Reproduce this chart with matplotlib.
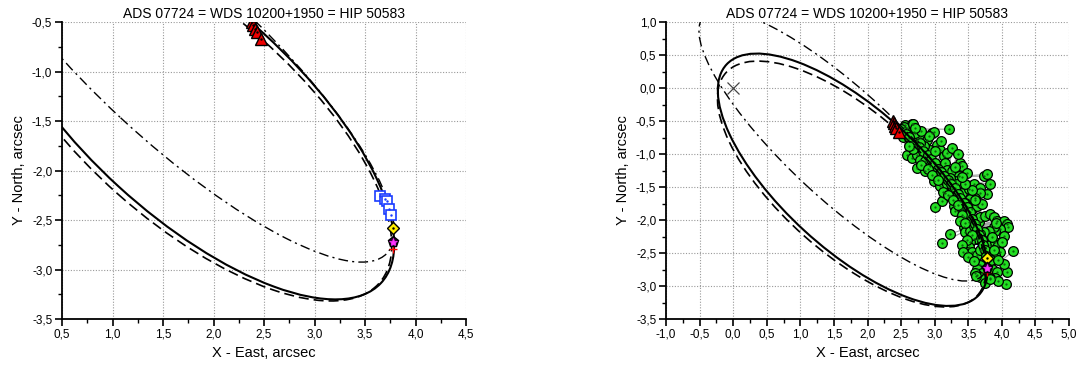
import numpy as np
import matplotlib
matplotlib.use("Agg")
import matplotlib.pyplot as plt
from matplotlib.patches import Ellipse
from matplotlib.ticker import MultipleLocator, FuncFormatter

plt.rcParams['font.family'] = ['Liberation Sans', 'DejaVu Sans']

TITLE = "ADS 07724 = WDS 10200+1950 = HIP 50583"
XLABEL = "X - East, arcsec"
YLABEL = "Y - North, arcsec"

# apparent orbits (solid, dashed, dash-dot): centre, full axes, tilt (deg)
orbit_cx = [1.78, 1.765, 1.64]
orbit_cy = [-1.39, -1.455, -0.875]
orbit_w = [5.13, 5.04, 5.714]
orbit_h = [2.11, 2.116, 1.63]
orbit_ang = [-43.0, -42.1, -43.4]
orbit_ls = ['-', (0, (6, 3)), (0, (7, 3, 1.5, 3))]
orbit_lw = [1.5, 1.2, 1.0]

# red triangles
tri_x = [2.38, 2.39, 2.41, 2.43, 2.47]
tri_y = [-0.50, -0.53, -0.57, -0.60, -0.67]
# blue squares
sq_x = [3.65, 3.70, 3.72, 3.74, 3.76]
sq_y = [-2.26, -2.29, -2.31, -2.39, -2.45]
# yellow diamond
dia_x = [3.78]
dia_y = [-2.58]
# magenta star
star_x = [3.775]
star_y = [-2.72]
# centre cross (primary)
cross_x = [0.0]
cross_y = [0.0]

# green observations (right panel)
gx = [2.564, 2.663, 2.589, 2.688, 2.530, 2.614, 2.663, 2.738, 2.787, 2.886, 2.960, 2.985,
      3.208, 3.035, 3.084, 2.936, 2.837, 2.787, 2.589, 2.663, 2.738, 2.787, 2.861, 2.738,
      2.861, 2.936, 2.985, 3.059, 3.134, 3.183, 3.257, 3.158, 3.183, 3.257, 3.381, 3.406,
      3.480, 3.356, 3.307, 3.233, 3.059, 2.985, 3.084, 3.183, 3.257, 3.332, 3.406, 3.505,
      3.579, 3.678, 3.728, 3.777, 3.827, 3.777, 3.678, 3.604, 3.530, 3.455, 3.381, 3.282,
      3.307, 3.406, 3.480, 3.554, 3.629, 3.010, 3.109, 3.233, 3.158, 3.431, 3.480, 3.505,
      3.431, 3.455, 3.530, 3.579, 3.653, 3.678, 3.752, 3.827, 3.876, 3.926, 4.025, 4.074,
      4.099, 3.975, 3.901, 3.876, 3.802, 3.728, 3.678, 3.629, 3.579, 3.530, 3.505, 3.480,
      3.554, 3.629, 3.678, 3.728, 3.827, 3.901, 3.950, 4.025, 4.000, 3.975, 3.901, 3.827,
      3.777, 3.678, 3.629, 3.703, 3.802, 3.851, 3.926, 3.901, 3.827, 4.074, 4.025, 4.163,
      3.233, 3.109, 3.629, 3.752, 4.064, 2.545, 2.673, 2.713,
      2.50, 2.58, 2.62, 2.70, 2.76, 2.82, 2.90, 2.94, 3.00, 3.05, 3.10, 3.14, 3.20, 3.24,
      3.30, 3.34, 3.38, 3.44, 3.48, 3.52, 3.56, 3.60, 3.63, 3.66, 3.70, 3.72, 3.75, 3.77,
      2.68, 2.62, 2.80, 2.90, 2.96, 3.05, 3.12, 3.20, 3.28, 3.35, 3.40, 3.37, 3.45, 3.55,
      3.48, 3.40, 3.42, 3.50, 3.58, 3.60, 3.68, 3.75, 3.84, 3.88, 3.95, 3.85, 3.92, 3.70,
      3.60, 3.55, 3.45, 3.40, 3.30, 3.35, 3.10, 3.00, 2.92, 2.80, 2.70, 3.95, 3.82, 3.62]
gy = [-0.560, -0.550, -0.610, -0.660, -0.735, -0.760, -0.810, -0.785, -0.735, -0.785, -0.685, -0.660,
      -0.625, -0.860, -0.935, -0.935, -0.885, -0.835, -1.010, -1.060, -1.010, -1.085, -1.110, -1.210,
      -1.260, -1.185, -1.135, -1.185, -1.035, -0.985, -0.910, -1.135, -1.235, -1.260, -1.135, -1.185,
      -1.285, -1.335, -1.410, -1.360, -1.310, -1.410, -1.485, -1.460, -1.535, -1.460, -1.585, -1.535,
      -1.460, -1.510, -1.335, -1.310, -1.460, -1.610, -1.585, -1.660, -1.685, -1.735, -1.710, -1.785,
      -1.860, -1.835, -1.810, -1.835, -1.785, -1.810, -1.710, -1.635, -1.585, -1.960, -1.935, -2.035,
      -2.110, -2.185, -2.160, -2.085, -2.035, -1.960, -1.935, -1.910, -1.960, -2.010, -2.010, -2.060,
      -2.110, -2.135, -2.160, -2.110, -2.160, -2.185, -2.210, -2.285, -2.285, -2.335, -2.410, -2.485,
      -2.485, -2.535, -2.460, -2.410, -2.385, -2.335, -2.385, -2.235, -2.335, -2.485, -2.535, -2.535,
      -2.635, -2.685, -2.735, -2.810, -2.785, -2.735, -2.785, -2.885, -2.885, -2.785, -2.660, -2.475,
      -2.210, -2.345, -2.835, -2.885, -2.975, -0.586, -0.545, -0.685,
      -0.62, -0.70, -0.74, -0.86, -0.90, -0.95, -1.02, -1.08, -1.14, -1.22, -1.28, -1.33, -1.40, -1.46,
      -1.52, -1.60, -1.66, -1.74, -1.80, -1.88, -1.98, -2.06, -2.14, -2.22, -2.30, -2.38, -2.46, -2.55,
      -0.92, -0.88, -1.16, -1.22, -1.32, -1.40, -1.58, -1.62, -1.70, -1.78, -1.92, -2.02, -2.05, -2.22,
      -2.30, -2.38, -2.48, -2.56, -2.62, -2.80, -2.86, -2.95, -2.60, -2.45, -2.60, -2.25, -2.05, -1.75,
      -1.70, -1.55, -1.45, -1.35, -1.20, -1.00, -0.80, -0.95, -0.72, -0.65, -0.60, -2.93, -2.90, -2.85]


def comma(v, pos):
    s = "%.1f" % v
    if s == "-0.0":
        s = "0.0"
    return s.replace('.', ',')


fig = plt.figure(figsize=(10.81, 3.67), dpi=100)
axL = fig.add_axes([62 / 1081, 1 - 319 / 367, 404 / 1081, 297 / 367])
axR = fig.add_axes([666 / 1081, 1 - 319 / 367, 403 / 1081, 297 / 367])


def style(ax, xlim, ylim):
    ax.set_xlim(*xlim)
    ax.set_ylim(*ylim)
    ax.xaxis.set_major_locator(MultipleLocator(0.5))
    ax.xaxis.set_minor_locator(MultipleLocator(0.25))
    ax.yaxis.set_major_locator(MultipleLocator(0.5))
    ax.yaxis.set_minor_locator(MultipleLocator(0.25))
    ax.xaxis.set_major_formatter(FuncFormatter(comma))
    ax.yaxis.set_major_formatter(FuncFormatter(comma))
    for s in ['top', 'right']:
        ax.spines[s].set_visible(False)
    for s in ['left', 'bottom']:
        ax.spines[s].set_linewidth(1.3)
    ax.tick_params(which='major', direction='out', length=5, width=1.2, labelsize=8.5, pad=2)
    ax.tick_params(which='minor', direction='out', length=3, width=1.0)
    ax.grid(True, which='major', linestyle=(0, (1, 1.5)), color='#999999', linewidth=0.8)
    ax.set_axisbelow(True)
    ax.set_title(TITLE, fontsize=10, pad=3)
    ax.set_xlabel(XLABEL, fontsize=10.5, labelpad=4)
    ax.set_ylabel(YLABEL, fontsize=10.5, labelpad=4)


def orbits(ax, z=3):
    for cx, cy, w, h, a, ls, lw in zip(orbit_cx, orbit_cy, orbit_w, orbit_h, orbit_ang, orbit_ls, orbit_lw):
        e = Ellipse((cx, cy), w, h, angle=a, fill=False, edgecolor='black', linestyle=ls,
                    linewidth=lw, zorder=z)
        ax.add_patch(e)


def markers(ax, squares=True):
    ax.plot(tri_x, tri_y, linestyle='none', marker='^', ms=8, mfc='#ee0000', mec='black',
            mew=1.0, zorder=6)
    ax.plot(tri_x, tri_y, linestyle='none', marker='.', ms=1.5, color='black', zorder=6.1)
    if squares:
        ax.plot(sq_x, sq_y, linestyle='none', marker='s', ms=6.5, mfc='white', mec='#1a3cff',
                mew=1.2, zorder=6)
        ax.plot(sq_x, sq_y, linestyle='none', marker='.', ms=1.5, color='#1a3cff', zorder=6.1)
    ax.plot(dia_x, dia_y, linestyle='none', marker='D', ms=6.5, mfc='#ffee00', mec='black',
            mew=1.0, zorder=7)
    ax.plot(dia_x, dia_y, linestyle='none', marker='.', ms=1.5, color='black', zorder=7.1)
    ax.plot(star_x, [v - 0.07 for v in star_y], linestyle='none', marker='+', ms=6, color='red',
            mew=1.0, zorder=6.5)
    ax.plot(star_x, star_y, linestyle='none', marker='p', ms=8, mfc='#2a0030', mec='black',
            mew=1.0, zorder=7)
    ax.plot(star_x, star_y, linestyle='none', marker='*', ms=6, mfc='#ff33ff', mec='#ff33ff',
            mew=0.5, zorder=7.2)


# ---------- left panel ----------
style(axL, (0.5, 4.5), (-3.5, -0.5))
orbits(axL)
markers(axL)

# ---------- right panel ----------
style(axR, (-1.0, 5.0), (-3.5, 1.0))
orbits(axR, z=5.5)

# O-C lines: from each observation to nearest point on the solid orbit
e0 = Ellipse((orbit_cx[0], orbit_cy[0]), orbit_w[0], orbit_h[0], angle=orbit_ang[0])
poly = e0.get_path().to_polygons(e0.get_patch_transform())[0]
for x, y in zip(gx, gy):
    d = (poly[:, 0] - x) ** 2 + (poly[:, 1] - y) ** 2
    px, py = poly[np.argmin(d)]
    axR.plot([x, px], [y, py], color='#a0a0a0', linewidth=0.8, zorder=4)

axR.plot(sq_x, sq_y, linestyle='none', marker='s', ms=6.5, mfc='white', mec='#1a3cff',
         mew=1.2, zorder=4.5)
axR.plot(gx, gy, linestyle='none', marker='o', ms=7, mfc='#22dd22', mec='black', mew=0.9,
         zorder=5)
axR.plot(gx, gy, linestyle='none', marker='.', ms=1.2, color='#0a5a0a', zorder=5.1)
markers(axR, squares=False)
axR.plot(cross_x, cross_y, linestyle='none', marker='x', ms=8, color='#444444', mew=0.9, zorder=6)

fig.savefig("out.png", dpi=100)
